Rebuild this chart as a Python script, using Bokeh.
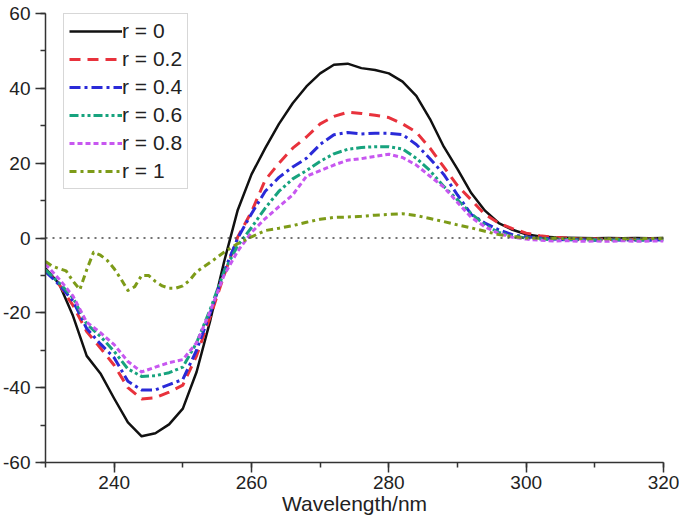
from bokeh.plotting import figure
from bokeh.models import (Span, SingleIntervalTicker, Legend, LegendItem, Range1d,
                          CustomJSTickFormatter)
from bokeh.embed import file_html
from bokeh.resources import INLINE

# ---- data ----
wl = [230, 232, 234, 236, 238, 240, 242, 244, 246, 248, 250, 252, 254, 256, 258,
      260, 262, 264, 266, 268, 270, 272, 274, 276, 278, 280, 282, 284, 286, 288,
      290, 292, 294, 296, 298, 300, 302, 304, 306, 308, 310, 312, 314, 316, 318, 320]

r0 = [-8.1, -12.3, -20.8, -31.5, -36.2, -42.9, -49.3, -53.0, -52.2, -49.8, -45.6, -35.8, -22.0, -6.4, 7.5,
      17.0, 24.0, 30.5, 36.0, 40.5, 44.0, 46.3, 46.6, 45.4, 44.9, 44.0, 41.8, 38.0, 31.8, 24.4,
      18.4, 12.0, 7.3, 4.0, 2.2, 1.0, 0.4, 0.2, 0.1, 0.0, -0.1, 0.0, -0.1, 0.0, -0.1, 0.0]
r02 = [-8.5, -12.5, -18.0, -25.0, -29.4, -34.0, -40.0, -43.0, -42.7, -41.2, -39.3, -31.5, -21.0, -10.0, 0.3,
       7.0, 15.5, 20.0, 24.0, 27.0, 30.5, 32.5, 33.6, 33.3, 32.8, 32.2, 30.5, 28.3, 24.0, 19.0,
       14.0, 10.2, 6.3, 4.0, 2.5, 1.3, 0.6, 0.2, 0.0, -0.3, -0.2, -0.4, -0.2, -0.4, -0.3, -0.3]
r04 = [-9.0, -12.5, -16.8, -24.2, -28.3, -32.0, -38.3, -40.6, -40.6, -39.2, -37.8, -30.0, -20.0, -9.0, 0.0,
       6.5, 12.5, 16.2, 19.0, 21.3, 25.0, 27.6, 28.2, 27.8, 28.0, 28.0, 27.6, 25.0, 21.2, 17.0,
       11.5, 6.3, 4.0, 2.2, 0.9, 0.3, 0.0, -0.3, -0.5, -0.4, -0.6, -0.4, -0.6, -0.5, -0.6, -0.5]
r06 = [-8.5, -12.0, -16.0, -23.0, -26.3, -30.3, -35.0, -37.0, -36.8, -36.0, -34.5, -28.0, -19.0, -9.0, -2.0,
       2.8, 8.0, 12.5, 15.8, 18.0, 20.5, 22.5, 23.7, 24.2, 24.4, 24.4, 23.8, 21.3, 18.0, 13.8,
       10.2, 6.5, 3.5, 1.5, 0.5, 0.0, -0.3, -0.5, -0.4, -0.6, -0.5, -0.6, -0.4, -0.6, -0.5, -0.5]
r08 = [-7.0, -11.0, -15.5, -22.5, -25.3, -28.5, -33.0, -35.8, -34.5, -33.3, -32.5, -28.0, -19.5, -10.0, -3.5,
       1.5, 5.2, 8.4, 11.5, 16.5, 18.0, 19.5, 20.8, 21.2, 21.8, 22.4, 21.5, 19.5, 16.5, 13.6,
       9.5, 5.5, 3.0, 1.2, 0.2, -0.3, -0.6, -0.8, -0.7, -0.9, -0.8, -0.9, -0.7, -0.9, -0.8, -0.8]

wl_r1 = [230, 231, 232, 233, 234, 235, 236, 237, 238, 239, 240, 241, 242, 243, 244, 245, 246, 247,
         248, 249, 250, 251, 252, 254, 256, 258, 260, 262, 264, 266, 268, 270, 272, 274, 276, 278,
         280, 282, 284, 286, 288, 290, 292, 294, 296, 298, 300, 305, 310, 315, 320]
r1 = [-6.3, -7.5, -8.2, -8.8, -11.5, -13.8, -8.5, -3.8, -4.6, -6.0, -8.2, -11.0, -14.0, -13.0, -10.0,
      -10.0, -11.6, -12.8, -13.4, -13.4, -12.8, -11.3, -9.0, -6.5, -3.8, -1.5, 0.3, 2.0, 2.6, 3.3,
      4.2, 5.0, 5.5, 5.6, 5.8, 6.1, 6.3, 6.5, 6.0, 5.2, 4.4, 3.5, 2.7, 1.8, 0.9, 0.4, 0.0, -0.1,
      -0.2, -0.2, -0.1]

labels = ["r = 0", "r = 0.2", "r = 0.4", "r = 0.6", "r = 0.8", "r = 1"]

FONT = "Liberation Sans"
TXT = "#222222"

p = figure(width=679, height=521, output_backend="svg", toolbar_location=None,
           x_range=Range1d(230, 320), y_range=Range1d(-60, 60),
           min_border_left=45, min_border_right=16, min_border_top=13, min_border_bottom=59)
p.outline_line_color = None
p.grid.visible = False
p.background_fill_color = "white"
p.border_fill_color = "white"

p.add_layout(Span(location=0, dimension="width", line_color="#444444",
                  line_width=1.5, line_dash="2 5"))

styles = [
    dict(x=wl, y=r0, color="#111111", dash="solid", w=2.5),
    dict(x=wl, y=r02, color="#e8323c", dash="11 7", w=3),
    dict(x=wl, y=r04, color="#2a2ad8", dash="11 4 3 4", w=3),
    dict(x=wl, y=r06, color="#17a37e", dash="9 3 3 3 3 3", w=3),
    dict(x=wl, y=r08, color="#c757f0", dash="5 3", w=3),
    dict(x=wl_r1, y=r1, color="#7d9b18", dash="7 4 3 4", w=3),
]
items = []
for s, lab in zip(styles, labels):
    r = p.line(s["x"], s["y"], line_color=s["color"], line_width=s["w"],
               line_dash=s["dash"], line_join="round")
    items.append(LegendItem(label=lab, renderers=[r]))

legend = Legend(items=items, location=(18, 273))
legend.label_text_font = FONT
legend.label_text_font_size = "21px"
legend.label_text_color = TXT
legend.glyph_width = 53
legend.glyph_height = 20
legend.label_height = 20
legend.label_standoff = 0
legend.spacing = 4
legend.padding = 5
legend.margin = 0
legend.border_line_color = "#b0b0b0"
legend.border_line_width = 1
legend.background_fill_alpha = 1
p.add_layout(legend)

fmt = CustomJSTickFormatter(code="return tick.toFixed(0);")
p.xaxis.ticker = SingleIntervalTicker(interval=20, num_minor_ticks=2)
p.yaxis.ticker = SingleIntervalTicker(interval=20, num_minor_ticks=2)
for ax in (p.xaxis[0], p.yaxis[0]):
    ax.formatter = fmt
    ax.axis_line_color = "#333333"
    ax.axis_line_width = 1.5
    ax.major_tick_line_color = "#333333"
    ax.minor_tick_line_color = "#333333"
    ax.major_tick_line_width = 1.5
    ax.minor_tick_line_width = 1.5
    ax.major_tick_in = 0
    ax.minor_tick_in = 0
    ax.major_tick_out = 10
    ax.minor_tick_out = 5
    ax.major_label_text_font = FONT
    ax.major_label_text_color = TXT
    ax.major_label_text_font_size = "19px"
p.xaxis.major_label_standoff = 3
p.yaxis.major_label_standoff = 5

p.xaxis.axis_label = "Wavelength/nm"
p.xaxis.axis_label_text_font = FONT
p.xaxis.axis_label_text_font_size = "21px"
p.xaxis.axis_label_text_font_style = "normal"
p.xaxis.axis_label_text_color = TXT
p.xaxis.axis_label_standoff = 0

open("out.html", "w").write(file_html(p, INLINE))
